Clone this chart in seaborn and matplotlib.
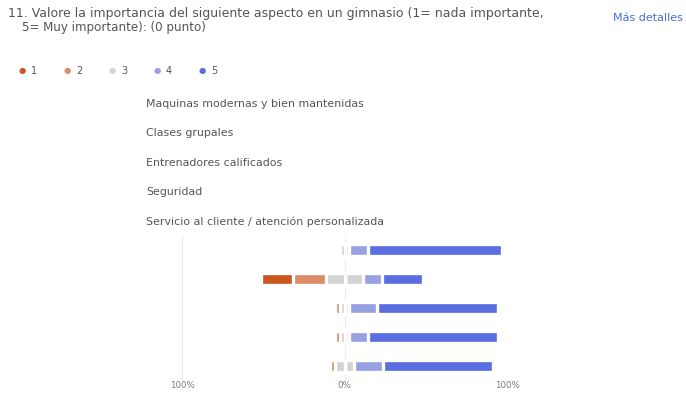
import matplotlib
matplotlib.use("Agg")
import matplotlib.pyplot as plt
import numpy as np
import pandas as pd
import seaborn as sns

sns.set_theme(style="white")
plt.rcParams["font.family"] = ["DejaVu Sans"]

# Statements rated on a 1-5 scale
categories = [
    "Maquinas modernas y bien mantenidas",
    "Clases grupales",
    "Entrenadores calificados",
    "Seguridad",
    "Servicio al cliente / atención personalizada",
]
# Number of answers per rating
rating_1 = [0, 7, 0, 0, 0]
rating_2 = [0, 7, 1, 1, 1]
rating_3 = [2, 8, 2, 2, 4]
rating_4 = [4, 4, 6, 4, 6]
rating_5 = [29, 9, 26, 28, 23]

scale_labels = ["1", "2", "3", "4", "5"]
colors = ["#c9581f", "#dc8d68", "#d3d3d3", "#97a1e2", "#5a6de3"]

title_line1 = "11. Valore la importancia del siguiente aspecto en un gimnasio (1= nada importante,"
title_line2 = "5= Muy importante): (0 punto)"
link_text = "Más detalles"
axis_ticks = [-100, 0, 100]
axis_tick_labels = ["100%", "0%", "100%"]

counts = np.array([rating_1, rating_2, rating_3, rating_4, rating_5], dtype=float)
pct = counts / counts.sum(axis=0) * 100

half3 = pct[2] / 2
right_4 = half3 + pct[3]
right_5 = right_4 + pct[4]
left_2 = -(half3 + pct[1])
left_1 = left_2 - pct[0]

W, H = 686, 395
fig = plt.figure(figsize=(W / 100, H / 100), dpi=100)
renderer = fig.canvas.get_renderer()


def fitted_text(x_px, y_px, s, width_px, size, ha="left", **kw):
    """Place text and scale its size so it spans width_px pixels."""
    t = fig.text(x_px / W, 1 - y_px / H, s, fontsize=size, va="center", ha=ha, **kw)
    w = t.get_window_extent(renderer).width
    t.set_fontsize(size * width_px / w)
    return t


ax = fig.add_axes([182 / W, 1 - 380.5 / H, 325 / W, 145 / H])

layers = [
    (right_5, colors[4]),
    (right_4, colors[3]),
    (half3, colors[2]),
    (left_1, colors[0]),
    (left_2, colors[1]),
    (-half3, colors[2]),
]
for vals, col in layers:
    df = pd.DataFrame({"statement": categories, "value": vals})
    sns.barplot(data=df, x="value", y="statement", orient="h", color=col,
                saturation=1, width=0.38, edgecolor="white", linewidth=2.4,
                errorbar=None, ax=ax)

ax.set_xlim(-100, 100)
ax.set_ylim(4.5, -0.5)
ax.set_xlabel("")
ax.set_ylabel("")
ax.set_yticks([])
ax.set_xticks(axis_ticks)
ax.set_xticklabels(axis_tick_labels, fontsize=6.2, color="#7a7a7a")
ax.tick_params(axis="x", length=0, pad=0)
for s in ax.spines.values():
    s.set_visible(False)
for xv in axis_ticks:
    ax.axvline(xv, color="#ececec", lw=0.8, zorder=0)

# Question header
txt_color = "#555555"
fitted_text(8, 14, title_line1, 538, 8, color=txt_color)
fitted_text(22, 27, title_line2, 184, 8, color=txt_color)
fitted_text(683, 18, link_text, 70, 7, ha="right", color="#4a6cd4")

# Legend of the rating scale
for i, (lab, col) in enumerate(zip(scale_labels, colors)):
    x0 = 22 + i * 45
    fig.text(x0 / W, 1 - 71 / H, "●", fontsize=6, color=col, va="center", ha="center")
    fig.text((x0 + 9) / W, 1 - 71 / H, lab, fontsize=7, color=txt_color, va="center", ha="left")

# Statement captions
cap = fitted_text(146, 0, categories[-1], 238, 8, color=txt_color)
cap_size = cap.get_fontsize()
cap.remove()
for i, cat in enumerate(categories):
    y = 104 + i * 29.5
    fig.text(146 / W, 1 - y / H, cat, fontsize=cap_size, color=txt_color, va="center", ha="left")

fig.savefig("out.png", dpi=100, facecolor="white")
